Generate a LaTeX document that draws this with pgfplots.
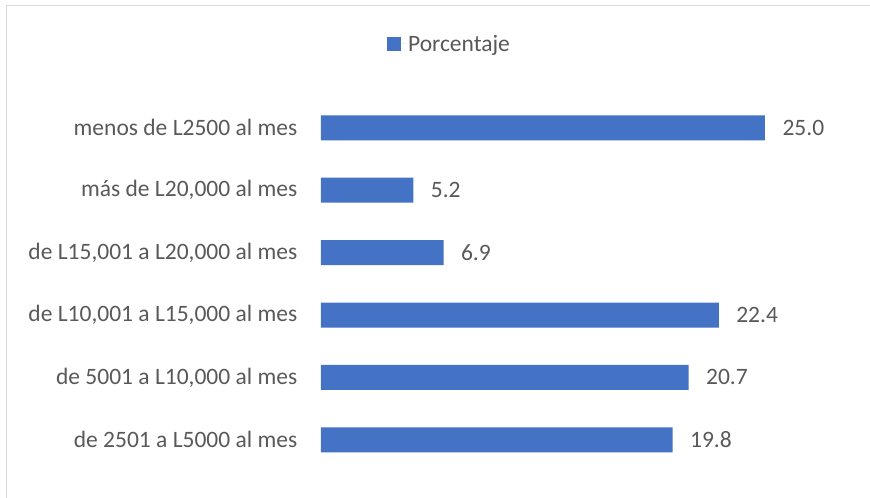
\documentclass[border=0pt]{standalone}
\usepackage{fontspec}
\setmainfont{Carlito}
\usepackage{pgfplots}
\pgfplotsset{compat=1.18}
\definecolor{barblue}{HTML}{4472C4}
\definecolor{txtgray}{HTML}{595959}
\definecolor{brdgray}{HTML}{D9D9D9}
\begin{document}
\begin{tikzpicture}
\useasboundingbox (-321bp,-27bp) rectangle (549bp,471bp);
\draw[brdgray,line width=1.5bp] (-314.5bp,-30bp) -- (-314.5bp,465.5bp) -- (552bp,465.5bp);
\begin{axis}[
  at={(0,0)}, anchor=south west,
  scale only axis,
  width=479.5bp, height=374.4bp,
  xmin=0, xmax=27, ymin=-0.5, ymax=5.5,
  xbar, bar width=25bp,
  hide x axis,
  axis y line*=left,
  y axis line style={draw=none},
  ytick={0,1,2,3,4,5},
  yticklabels={{de 2501 a L5000 al mes}, {de 5001 a L10,000 al mes}, {de L10,001 a L15,000 al mes}, {de L15,001 a L20,000 al mes}, {más de L20,000 al mes}, {menos de L2500 al mes}},
  y tick label style={font=\fontsize{23.5bp}{28bp}\selectfont, text=txtgray, anchor=east, xshift=-16bp},
  tick style={draw=none},
  nodes near coords,
  nodes near coords style={font=\fontsize{23.5bp}{28bp}\selectfont, text=txtgray, anchor=west, xshift=14bp,
    /pgf/number format/fixed, /pgf/number format/precision=1, /pgf/number format/fixed zerofill, /pgf/number format/assume math mode=true},
  legend style={at={(0.268,1.1405)}, anchor=center, draw=none, font=\fontsize{23.5bp}{28bp}\selectfont, text=txtgray, inner sep=0pt},
  legend image code/.code={\fill[barblue] (0bp,-7bp) rectangle (14bp,7bp); \path (0bp,0bp) -- (19bp,0bp);},
  clip=false,
]
\addplot[fill=barblue, draw=none] coordinates {(19.8,0) (20.7,1) (22.4,2) (6.9,3) (5.2,4) (25.0,5)};
\addlegendentry{Porcentaje}
\end{axis}
\end{tikzpicture}
\end{document}
